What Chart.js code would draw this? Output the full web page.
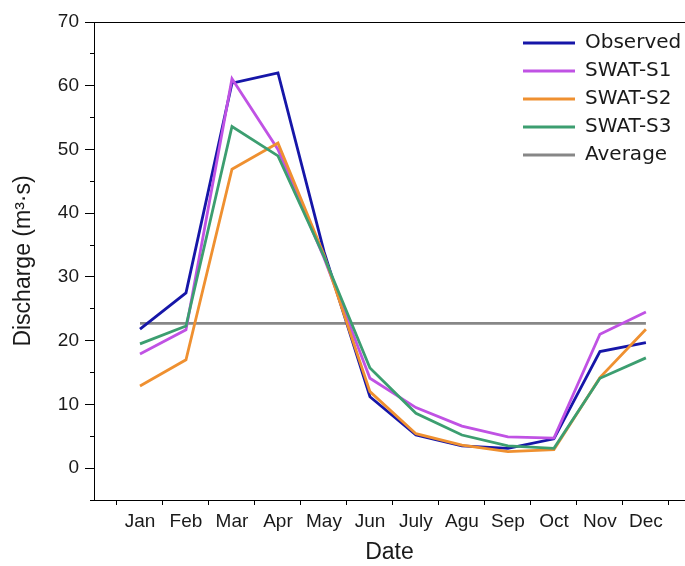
<!DOCTYPE html>
<html>
<head>
<meta charset="utf-8">
<script src="https://cdn.jsdelivr.net/npm/chart.js@4"></script>
<style>
html, body { margin: 0; padding: 0; background: #ffffff; }
canvas { display: block; }
</style>
</head>
<body>
<canvas id="c" width="685" height="566"></canvas>
<script>
const months = ['Jan', 'Feb', 'Mar', 'Apr', 'May', 'Jun', 'July', 'Agu', 'Sep', 'Oct', 'Nov', 'Dec'];
const observed = [21.8, 27.5, 60.4, 62.0, 34.0, 11.2, 5.2, 3.5, 3.1, 4.6, 18.3, 19.7];
const swatS1   = [17.9, 21.7, 61.1, 50.0, 33.0, 14.1, 9.5, 6.6, 4.9, 4.7, 21.0, 24.5];
const swatS2   = [12.9, 17.0, 46.9, 51.0, 33.5, 12.0, 5.4, 3.6, 2.6, 2.9, 14.2, 21.8];
const swatS3   = [19.5, 22.3, 53.6, 49.0, 33.2, 15.7, 8.6, 5.2, 3.5, 3.1, 14.1, 17.3];
const averageValue = 22.7;
const seriesNames = ['Observed', 'SWAT-S1', 'SWAT-S2', 'SWAT-S3', 'Average'];
const yMin = -5, yMax = 70, yStep = 5, yLabelStep = 10;

const toPoints = arr => arr.map((v, i) => ({ x: i + 1, y: v }));
const averageSeries = months.map(() => averageValue);

// tick positions: category centres (labels) and boundaries (tick marks)
const xTicks = [];
for (let i = 0; i < months.length; i++) { xTicks.push(i + 0.5); xTicks.push(i + 1); }
xTicks.push(months.length + 0.5);

const colors = ['#1616a8', '#c052e4', '#ef9030', '#3c9e70', '#878787'];
const tickFont = { family: "'Liberation Sans', Arial, sans-serif", size: 19 };
const titleFont = { family: "'Liberation Sans', Arial, sans-serif", size: 23 };

Chart.defaults.color = '#1a1a1a';

const seriesData = [observed, swatS1, swatS2, swatS3, averageSeries];
const drawOrder = [4, 3, 2, 1, 5];

const legendPlacer = {
  id: 'legendPlacer',
  afterLayout(chart) {
    const lg = chart.legend;
    if (!lg) return;
    const w = lg.width, h = lg.height;
    lg.left = 515; lg.top = 25; lg.right = lg.left + w; lg.bottom = lg.top + h;
  }
};

new Chart(document.getElementById('c'), {
  type: 'line',
  data: {
    datasets: seriesData.map((arr, i) => ({
      label: seriesNames[i],
      data: toPoints(arr),
      borderColor: colors[i],
      backgroundColor: colors[i],
      borderWidth: 2.8,
      pointRadius: 0,
      tension: 0,
      fill: false,
      order: drawOrder[i]
    }))
  },
  plugins: [legendPlacer],
  options: {
    responsive: false,
    animation: false,
    devicePixelRatio: 1,
    layout: { padding: { top: 22, right: 0, bottom: 0, left: 0 } },
    plugins: {
      tooltip: { enabled: false },
      legend: {
        position: 'chartArea',
        align: 'start',
        labels: {
          usePointStyle: true,
          pointStyle: 'line',
          pointStyleWidth: 52,
          padding: 8,
          color: '#1a1a1a',
          font: { family: "'DejaVu Sans', Verdana, sans-serif", size: 20 },
          sort: (a, b) => a.datasetIndex - b.datasetIndex
        }
      }
    },
    scales: {
      x: {
        type: 'linear',
        position: 'bottom',
        min: 0,
        max: 12.85,
        afterBuildTicks: s => { s.ticks = xTicks.map(v => ({ value: v })); },
        afterFit: s => { s.height = 66; },
        ticks: {
          autoSkip: false,
          maxRotation: 0,
          padding: 5,
          font: tickFont,
          color: '#1a1a1a',
          callback: v => (Number.isInteger(v) && v >= 1 && v <= months.length) ? months[v - 1] : ''
        },
        grid: {
          drawOnChartArea: false,
          drawTicks: true,
          tickLength: 5,
          tickWidth: 1,
          tickColor: c => (c.tick && Number.isInteger(c.tick.value)) ? 'rgba(0,0,0,0)' : '#000'
        },
        border: { display: true, color: '#000', width: 1 },
        title: { display: true, text: 'Date', font: titleFont, color: '#1a1a1a', padding: { top: 0, bottom: 0 } }
      },
      xTop: {
        type: 'linear',
        position: 'top',
        min: 0,
        max: 12.85,
        ticks: { display: false },
        grid: { display: false, drawTicks: false },
        border: { display: true, color: '#000', width: 1 }
      },
      y: {
        type: 'linear',
        min: yMin,
        max: yMax,
        afterFit: s => { s.width = 94; },
        ticks: {
          stepSize: yStep,
          padding: 6,
          font: tickFont,
          color: '#1a1a1a',
          callback: v => (v >= 0 && v % yLabelStep === 0) ? String(v) : ''
        },
        grid: {
          drawOnChartArea: false,
          drawTicks: true,
          tickLength: 9,
          tickWidth: 1,
          tickColor: '#000',
          tickBorderDash: c => (c.tick && c.tick.value % yLabelStep === 0) ? [] : [0, 5, 4, 100]
        },
        border: { display: true, color: '#000', width: 1 },
        title: { display: true, text: 'Discharge (m³·s)', font: titleFont, color: '#1a1a1a', padding: { top: 10, bottom: 0 } }
      }
    }
  }
});
</script>
</body>
</html>
